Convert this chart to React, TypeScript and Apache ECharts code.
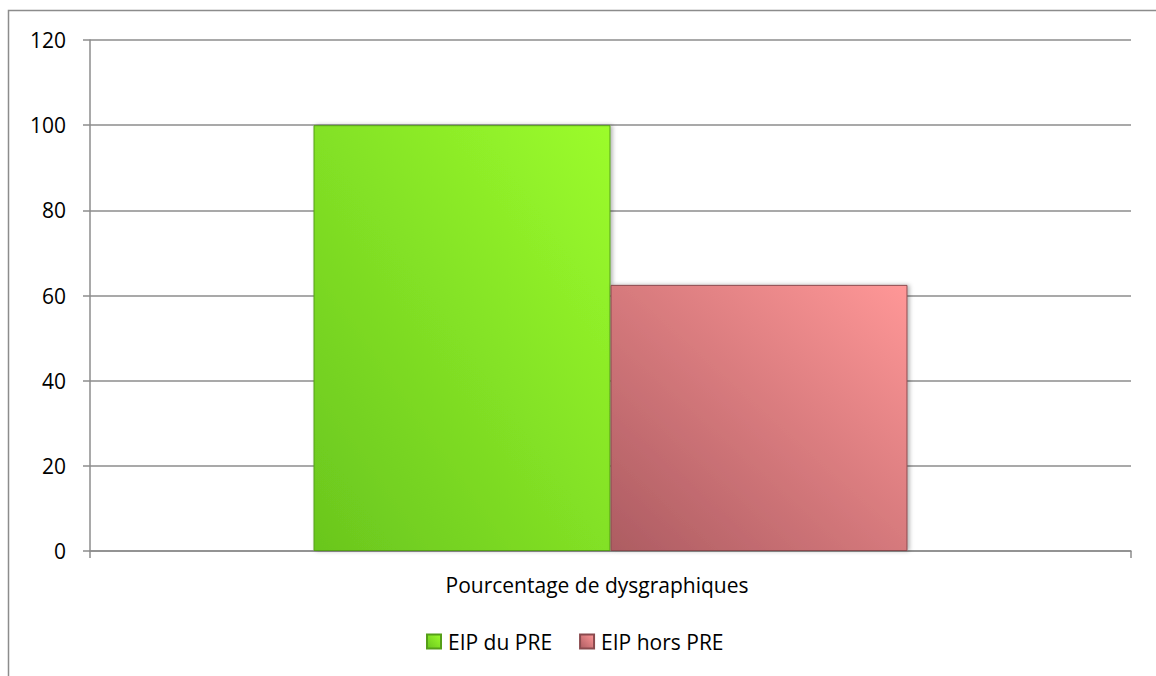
import React, { useEffect, useRef } from "react";
import * as echarts from "echarts";

const categories = ["Pourcentage de dysgraphiques"];
const seriesNames = ["EIP du PRE", "EIP hors PRE"];
const valuesPRE = [100];
const valuesHorsPRE = [62.5];
const yTicks = { min: 0, max: 120, interval: 20 };

const FONT = "'Open Sans', 'Noto Sans', sans-serif";

export default function App() {
  const ref = useRef<HTMLDivElement>(null);
  useEffect(() => {
    document.body.style.margin = "0";
    const chart = echarts.init(ref.current!, null, { renderer: "svg" });
    const grad = (bl: string, tr: string) =>
      new echarts.graphic.LinearGradient(0, 1, 1, 0, [
        { offset: 0, color: bl },
        { offset: 1, color: tr },
      ]);
    chart.setOption({
      animation: false,
      backgroundColor: "#ffffff",
      textStyle: { fontFamily: FONT },
      graphic: [
        {
          type: "rect",
          shape: { x: 8.5, y: 10.5, width: 1300, height: 800 },
          style: { fill: "none", stroke: "#8c8c8c", lineWidth: 1.5 },
          silent: true,
        },
      ],
      grid: { left: 90, right: 25, top: 40, bottom: 125, containLabel: false },
      legend: {
        left: 426,
        top: 631,
        padding: 0,
        itemWidth: 14,
        itemHeight: 14,
        itemGap: 27,
        icon: "rect",
        textStyle: { fontSize: 21, color: "#000", fontFamily: FONT, padding: [0, 0, 0, 2] },
        data: seriesNames,
      },
      xAxis: {
        type: "category",
        data: categories,
        axisLine: { lineStyle: { color: "#8c8c8c", width: 1.5 } },
        axisTick: { show: true, length: 7, alignWithLabel: false, lineStyle: { color: "#8c8c8c", width: 1.5 } },
        axisLabel: { fontSize: 21, color: "#000", margin: 23, fontFamily: FONT, padding: [0, 27, 0, 0] },
      },
      yAxis: {
        type: "value",
        min: yTicks.min,
        max: yTicks.max,
        interval: yTicks.interval,
        axisLine: { show: true, lineStyle: { color: "#8c8c8c", width: 1.5 } },
        axisTick: { show: true, length: 7, lineStyle: { color: "#8c8c8c", width: 1.5 } },
        axisLabel: { fontSize: 21, color: "#000", margin: 24, fontFamily: FONT },
        splitLine: { show: true, lineStyle: { color: "#8c8c8c", width: 1.5 } },
      },
      series: [
        {
          name: seriesNames[0],
          type: "bar",
          data: valuesPRE,
          barWidth: 297,
          barGap: "0%",
          itemStyle: {
            color: grad("#6ac61e", "#9cfc2c"),
            borderColor: "#559f18",
            borderWidth: 1,
            shadowColor: "rgba(0,0,0,0.3)",
            shadowBlur: 4,
            shadowOffsetX: 2,
          },
        },
        {
          name: seriesNames[1],
          type: "bar",
          data: valuesHorsPRE,
          barWidth: 297,
          barGap: "0%",
          itemStyle: {
            color: grad("#ad5c62", "#ff9797"),
            borderColor: "#8a4a4e",
            borderWidth: 1,
            shadowColor: "rgba(0,0,0,0.3)",
            shadowBlur: 4,
            shadowOffsetX: 2,
          },
        },
      ],
    });
    return () => chart.dispose();
  }, []);
  return <div ref={ref} style={{ width: 1156, height: 676 }} />;
}
